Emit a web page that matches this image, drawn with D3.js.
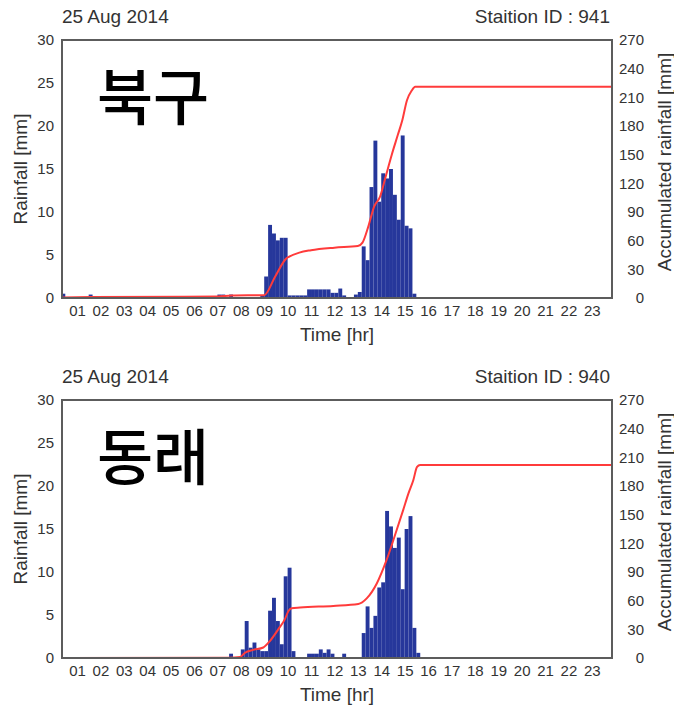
<!DOCTYPE html>
<html>
<head>
<meta charset="utf-8">
<script src="https://cdn.jsdelivr.net/npm/d3@7"></script>
<style>
  body { margin: 0; background: #fff; }
  text { font-family: "Liberation Sans", Arial, sans-serif; fill: #333; }
</style>
</head>
<body>
<div id="chart"></div>
<script>
// tick labels
var hourTicks = ["01","02","03","04","05","06","07","08","09","10","11","12",
                 "13","14","15","16","17","18","19","20","21","22","23"];
var rainTicks = [0, 5, 10, 15, 20, 25, 30];
var accTicks = [0, 30, 60, 90, 120, 150, 180, 210, 240, 270];

// station 941 (북구) - 10 min rainfall, only non zero bins
var barTimes941 = ["00:20","01:30","07:00","07:10","07:30","08:50",
  "09:00","09:10","09:20","09:30","09:40","09:50",
  "10:00","10:10","10:20","10:30","10:40","10:50","11:00","11:10","11:20","11:30","11:40",
  "11:50","12:00","12:10","12:20","12:50","13:00",
  "13:10","13:20","13:30","13:40","13:50","14:00","14:10","14:20","14:30","14:40",
  "14:50","15:00","15:10","15:20"];
var barRain941 = [0.5, 0.4, 0.4, 0.4, 0.4, 0.3,
  2.5, 8.5, 7.5, 6.7, 7.0, 7.0,
  0.3, 0.3, 0.3, 0.3, 0.3, 1.0, 1.0, 1.0, 1.0, 1.0, 1.0,
  0.6, 0.6, 1.1, 0.3, 0.4, 0.7,
  6.0, 4.4, 12.9, 18.3, 11.2, 14.5, 13.9, 15.0, 12.0, 9.1,
  18.9, 8.4, 8.1, 0.5];
// accumulated rainfall (hour, mm)
var accHours941 = [0.36, 1.6, 7.0, 7.6, 9.0, 9.47, 9.95, 10.05, 10.5, 11.0, 12.0, 13.0,
  13.2, 13.45, 13.7, 13.95, 14.2, 14.45, 14.7, 14.9, 15.1, 15.3, 15.45, 23.86];
var accRain941 = [0.5, 1, 1.5, 2.5, 3, 22.5, 41.5, 43, 47.5, 50, 52.7, 54.4,
  58, 75, 96, 106, 128, 150, 170, 186, 207, 217, 221, 221];

// station 940 (동래)
var barTimes940 = ["07:30","08:00","08:10","08:20","08:30","08:40","08:50","09:00",
  "09:10","09:20","09:30","09:40","09:50","10:00","10:10",
  "10:50","11:00","11:10","11:20","11:30","11:40","11:50","12:20",
  "13:10","13:20","13:30","13:40","13:50","14:00","14:10","14:20","14:30","14:40",
  "14:50","15:00","15:10","15:20","15:30"];
var barRain940 = [0.5, 1.0, 4.3, 1.2, 1.8, 1.0, 0.8, 0.8,
  5.5, 7.0, 4.3, 1.6, 9.5, 10.5, 0.8,
  0.5, 0.5, 0.5, 1.0, 0.6, 1.0, 0.5, 0.5,
  2.9, 6.0, 3.5, 4.9, 8.2, 8.8, 17.1, 15.3, 12.8, 14.0,
  8.0, 15.0, 16.5, 3.5, 0.6];
var accHours940 = [0.36, 7.5, 7.97, 8.18, 8.53, 8.96, 9.25, 9.6, 9.89, 10.03, 10.17, 10.53,
  11.95, 13.02, 13.38, 13.81, 14.23, 14.66, 14.94, 15.16, 15.37, 15.53, 15.66, 23.86];
var accRain940 = [0, 0.3, 1, 5.5, 8.5, 11, 18, 30, 41, 49, 52, 52.8,
  54.5, 56.5, 62.4, 78, 102.6, 134, 155, 172, 186, 200, 202, 202];

var width = 674, height = 706;
var left = 62, right = 612, plotH = 258;

var svg = d3.select('#chart').append('svg')
    .attr('width', width)
    .attr('height', height);

function toHour(s) {
    var p = s.split(':');
    return +p[0] + p[1] / 60;
}

var x = d3.scaleLinear().domain([0.36, 23.86]).range([left, right]);

function drawPanel(top, id, label, times, rain, accH, accV) {
    var g = svg.append('g').attr('transform', 'translate(0,' + top + ')');
    var y = d3.scaleLinear().domain([0, 30]).range([plotH, 0]);
    var yAcc = d3.scaleLinear().domain([0, 270]).range([plotH, 0]);

    g.append('clipPath').attr('id', 'clip' + id)
      .append('rect')
        .attr('x', left).attr('y', 0)
        .attr('width', right - left).attr('height', plotH);

    var plot = g.append('g').attr('clip-path', 'url(#clip' + id + ')');

    plot.selectAll('rect.bar')
      .data(times.map(function(t, i) { return { h: toHour(t), v: rain[i] }; }))
      .enter().append('rect')
        .attr('class', 'bar')
        .attr('x', function(d) { return x(d.h); })
        .attr('width', function(d) { return x(d.h + 1 / 6) - x(d.h); })
        .attr('y', function(d) { return y(d.v); })
        .attr('height', function(d) { return plotH - y(d.v); })
        .style('fill', '#26379b');

    var line = d3.line()
        .x(function(d) { return x(d[0]); })
        .y(function(d) { return yAcc(d[1]); })
        .curve(d3.curveMonotoneX);

    plot.append('path')
      .datum(accH.map(function(h, i) { return [h, accV[i]]; }))
      .attr('d', line)
      .style('fill', 'none')
      .style('stroke', '#ff3b3b')
      .style('stroke-width', 2);

    // frame
    g.append('rect')
      .attr('x', left).attr('y', 0)
      .attr('width', right - left).attr('height', plotH)
      .style('fill', 'none')
      .style('stroke', '#5c5c5c')
      .style('stroke-width', 2);

    // left axis
    var yAxis = g.append('g')
      .attr('transform', 'translate(' + left + ',0)')
      .call(d3.axisLeft(y).tickValues(rainTicks).tickSize(0).tickPadding(8));
    yAxis.select('.domain').remove();

    var yAxisR = g.append('g')
      .attr('transform', 'translate(' + right + ',0)')
      .call(d3.axisRight(yAcc).tickValues(accTicks).tickSize(0));
    yAxisR.select('.domain').remove();
    yAxisR.selectAll('text').attr('x', 32).attr('text-anchor', 'end');

    var xAxis = g.append('g')
      .attr('transform', 'translate(0,' + plotH + ')')
      .call(d3.axisBottom(x).tickValues(d3.range(1, 24))
            .tickFormat(function(d, i) { return hourTicks[i]; })
            .tickSize(0).tickPadding(7));
    xAxis.select('.domain').remove();

    g.selectAll('.tick text')
      .style('font-family', '"Liberation Sans", Arial, sans-serif')
      .style('font-size', '15px')
      .style('fill', '#333');

    g.append('text')
      .attr('x', left).attr('y', -17)
      .style('font-size', '19px')
      .text('25 Aug 2014');

    g.append('text')
      .attr('x', 610).attr('y', -17)
      .attr('text-anchor', 'end')
      .style('font-size', '19px')
      .text('Staition ID : ' + id);

    g.append('text')
      .attr('x', 337).attr('y', plotH + 43)
      .attr('text-anchor', 'middle')
      .style('font-size', '19px')
      .text('Time [hr]');

    g.append('text')
      .attr('transform', 'translate(27,' + (plotH / 2) + ') rotate(-90)')
      .attr('text-anchor', 'middle')
      .style('font-size', '19px')
      .text('Rainfall [mm]');

    g.append('text')
      .attr('transform', 'translate(671,' + (plotH / 2 - 7) + ') rotate(-90)')
      .attr('text-anchor', 'middle')
      .style('font-size', '19px')
      .text('Accumulated rainfall [mm]');

    g.append('text')
      .attr('x', 97).attr('y', 80)
      .style('font-family', '"Noto Sans CJK KR", sans-serif')
      .style('font-size', '61px')
      .style('font-weight', 500)
      .style('fill', '#000')
      .text(label);
}

drawPanel(40, 941, '북구', barTimes941, barRain941, accHours941, accRain941);
drawPanel(400, 940, '동래', barTimes940, barRain940, accHours940, accRain940);
</script>
</body>
</html>
